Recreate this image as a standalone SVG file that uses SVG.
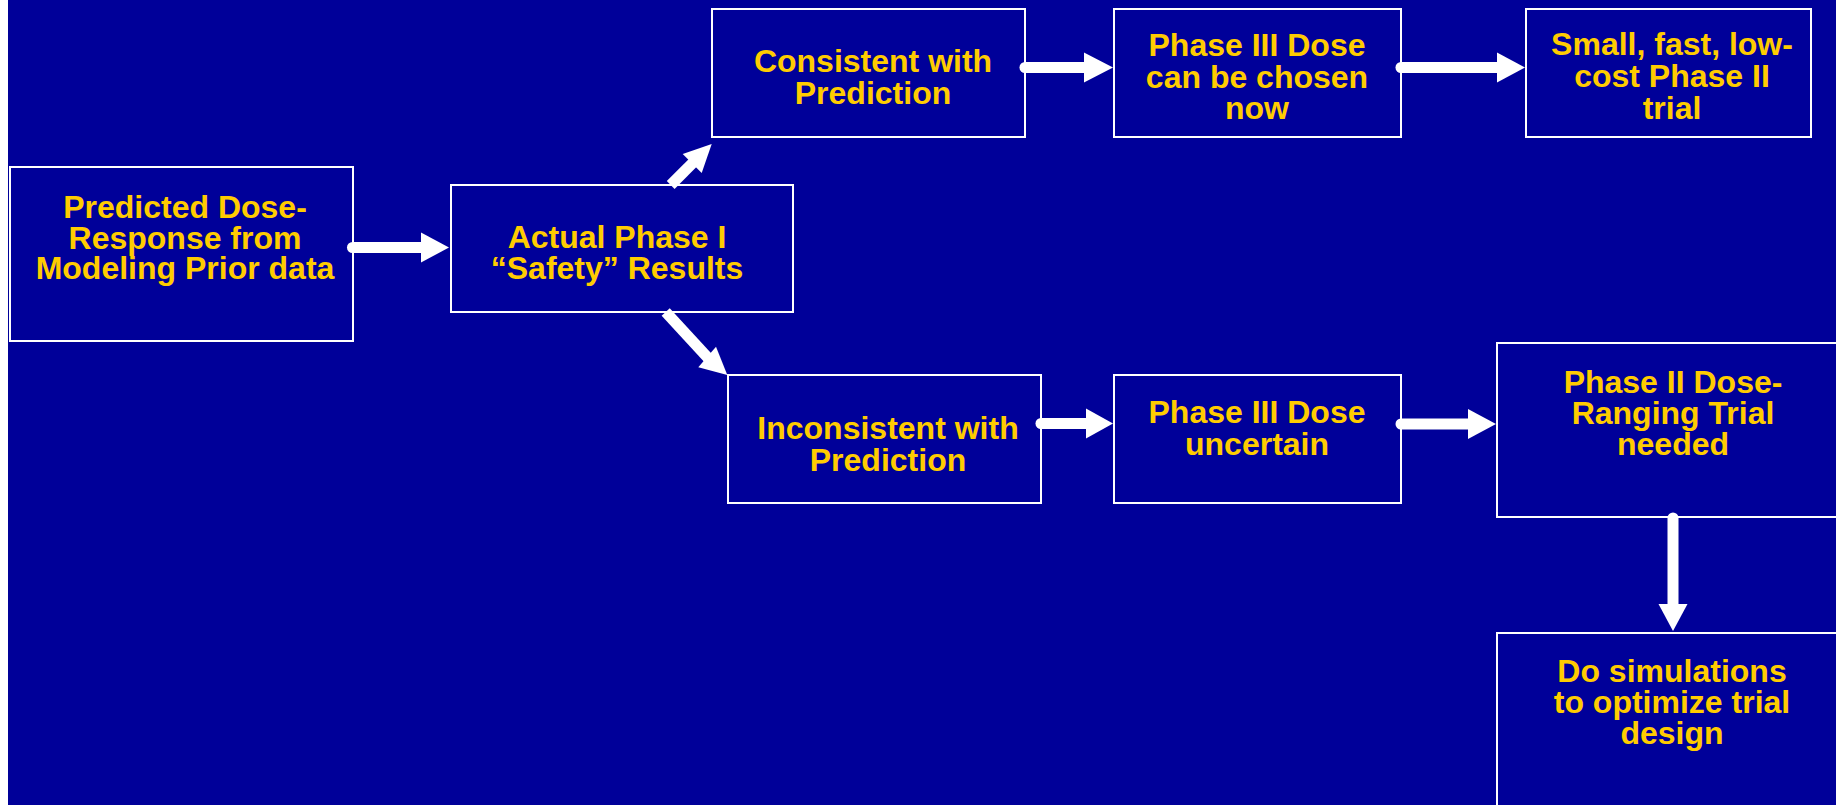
<svg xmlns="http://www.w3.org/2000/svg" width="1836" height="805" viewBox="0 0 1836 805">
<style>
.box{fill:#000099;stroke:#FFFFFF;stroke-width:2}
.t{font-family:"Liberation Sans",Arial,sans-serif;font-weight:bold;font-size:32px;fill:#FFCC00;text-anchor:middle}
.ln{stroke:#FFFFFF;stroke-width:11;fill:none}
.rc{stroke-linecap:round}
.hd{fill:#FFFFFF;stroke:none}
</style>
<rect x="0" y="0" width="1836" height="805" fill="#FFFFFF"/>
<rect x="8" y="0" width="1828" height="805" fill="#000099"/>

<g id="n1">
<rect class="box" x="10" y="167" width="343" height="174"/>
<text class="t"><tspan x="185" y="218">Predicted Dose-</tspan><tspan x="185" y="248.5">Response from</tspan><tspan x="185" y="279">Modeling Prior data</tspan></text>
</g>
<g id="n2">
<rect class="box" x="451" y="185" width="342" height="127"/>
<text class="t"><tspan x="617" y="247.5">Actual Phase I</tspan><tspan x="617" y="279">“Safety” Results</tspan></text>
</g>
<g id="n3">
<rect class="box" x="712" y="9" width="313" height="128"/>
<text class="t"><tspan x="873" y="72">Consistent with</tspan><tspan x="873" y="104">Prediction</tspan></text>
</g>
<g id="n4">
<rect class="box" x="1114" y="9" width="287" height="128"/>
<text class="t"><tspan x="1257" y="56">Phase III Dose</tspan><tspan x="1257" y="88">can be chosen</tspan><tspan x="1257" y="119">now</tspan></text>
</g>
<g id="n5">
<rect class="box" x="1526" y="9" width="285" height="128"/>
<text class="t"><tspan x="1672" y="55">Small, fast, low-</tspan><tspan x="1672" y="87">cost Phase II</tspan><tspan x="1672" y="119">trial</tspan></text>
</g>
<g id="n6">
<rect class="box" x="728" y="375" width="313" height="128"/>
<text class="t"><tspan x="888" y="439">Inconsistent with</tspan><tspan x="888" y="471">Prediction</tspan></text>
</g>
<g id="n7">
<rect class="box" x="1114" y="375" width="287" height="128"/>
<text class="t"><tspan x="1257" y="423">Phase III Dose</tspan><tspan x="1257" y="455">uncertain</tspan></text>
</g>
<g id="n8">
<rect class="box" x="1497" y="343" width="360" height="174"/>
<text class="t"><tspan x="1673" y="393">Phase II Dose-</tspan><tspan x="1673" y="423.5">Ranging Trial</tspan><tspan x="1673" y="455">needed</tspan></text>
</g>
<g id="n9">
<rect class="box" x="1497" y="633" width="360" height="200"/>
<text class="t"><tspan x="1672" y="682">Do simulations</tspan><tspan x="1672" y="713">to optimize trial</tspan><tspan x="1672" y="744">design</tspan></text>
</g>

<g id="connectors">
<line class="ln rc" x1="352.5" y1="247.5" x2="423" y2="247.5"/>
<polygon class="hd" points="421,232.5 449,247.5 421,262.5"/>

<line class="ln" x1="670.7" y1="185" x2="694" y2="161.7"/>
<polygon class="hd" points="682.7,154 711.7,144 701.7,173"/>

<line class="ln" x1="665.7" y1="312" x2="709" y2="359"/>
<polygon class="hd" points="698.3,367.3 727.3,375 716,346.7"/>

<line class="ln rc" x1="1025" y1="67.5" x2="1086" y2="67.5"/>
<polygon class="hd" points="1084,52.5 1113,67.5 1084,82.5"/>

<line class="ln rc" x1="1401" y1="67.5" x2="1499" y2="67.5"/>
<polygon class="hd" points="1497,52.5 1525,67.5 1497,82.5"/>

<line class="ln rc" x1="1041" y1="423.5" x2="1088" y2="423.5"/>
<polygon class="hd" points="1086,408.5 1113,423.5 1086,438.5"/>

<line class="ln rc" x1="1401" y1="424" x2="1470" y2="424"/>
<polygon class="hd" points="1468,409 1496,424 1468,439"/>

<line class="ln rc" x1="1673" y1="518" x2="1673" y2="606"/>
<polygon class="hd" points="1658.5,604 1673,631 1687.5,604"/>
</g>
</svg>
